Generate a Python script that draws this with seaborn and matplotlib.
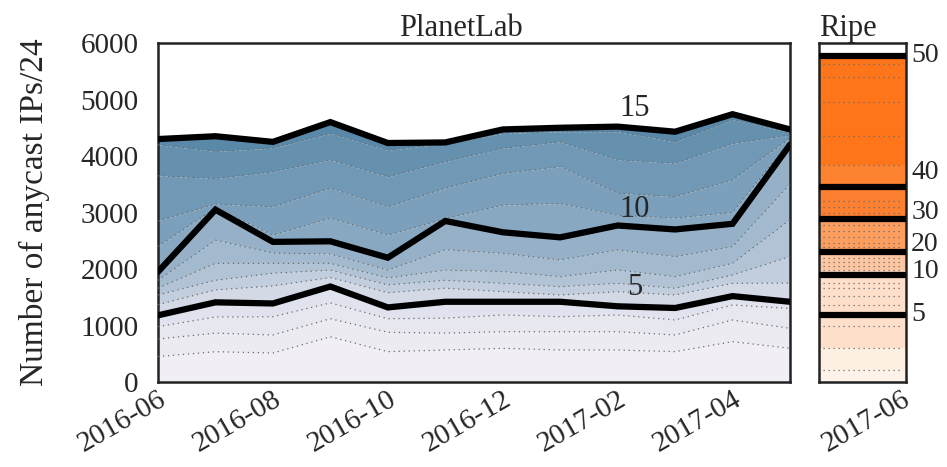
import numpy as np
import pandas as pd
import matplotlib
matplotlib.use("Agg")
import matplotlib.pyplot as plt
import seaborn as sns

# PlanetLab: cumulative count of anycast /24 per threshold level, monthly
months = ["2016-06", "2016-07", "2016-08", "2016-09", "2016-10", "2016-11",
          "2016-12", "2017-01", "2017-02", "2017-03", "2017-04", "2017-05"]
tick_months = ["2016-06", "2016-08", "2016-10", "2016-12", "2017-02", "2017-04"]

lvl_02 = [450, 536, 513, 800, 537, 566, 596, 566, 566, 537, 714, 596]
lvl_03 = [760, 865, 832, 1120, 880, 865, 890, 890, 890, 832, 1097, 950]
lvl_04 = [980, 1150, 1156, 1400, 1120, 1130, 1186, 1156, 1186, 1097, 1363, 1300]
lvl_05 = [1180, 1410, 1390, 1690, 1320, 1420, 1420, 1420, 1340, 1310, 1520, 1420]
lvl_06 = [1370, 1630, 1700, 1850, 1580, 1660, 1598, 1540, 1598, 1540, 1746, 1750]
lvl_07 = [1540, 1800, 1925, 1980, 1717, 1800, 1745, 1687, 1746, 1658, 1894, 2220]
lvl_08 = [1660, 2100, 2100, 2100, 1840, 1980, 1953, 1864, 1982, 1864, 2100, 2870]
lvl_09 = [1800, 2510, 2280, 2265, 1980, 2340, 2277, 2160, 2336, 2218, 2395, 3500]
lvl_10 = [1950, 3050, 2480, 2490, 2200, 2850, 2650, 2560, 2770, 2700, 2800, 4200]
lvl_11 = [2400, 3080, 2600, 2900, 2600, 2890, 3130, 3160, 2950, 2900, 3000, 4260]
lvl_12 = [2850, 3150, 3100, 3430, 3100, 3430, 3690, 3810, 3340, 3280, 3575, 4320]
lvl_13 = [3650, 3600, 3720, 3930, 3630, 3900, 4135, 4250, 3930, 3870, 4220, 4370]
lvl_14 = [4200, 4080, 4140, 4400, 4100, 4220, 4400, 4430, 4430, 4250, 4640, 4420]
lvl_15 = [4300, 4350, 4250, 4600, 4230, 4240, 4470, 4500, 4520, 4430, 4740, 4470]

level_names = [2, 3, 4, 5, 6, 7, 8, 9, 10, 11, 12, 13, 14, 15]
major_levels = [5, 10, 15]

# Ripe: one snapshot (2017-06), boundaries between levels
ripe_month = "2017-06"
ripe_bounds = [212, 596, 991, 1180, 1363, 1522, 1658, 1758, 1888, 1982, 2053,
               2130, 2189, 2295, 2395, 2455, 2572, 2678, 2779, 2879, 2997, 3091,
               3209, 3445, 3841, 4354, 4961, 5404, 5628, 5775]
ripe_major_labels = ["5", "10", "20", "30", "40", "50"]
ripe_major_vals = [1180, 1888, 2295, 2879, 3445, 5775]

levels = [lvl_02, lvl_03, lvl_04, lvl_05, lvl_06, lvl_07, lvl_08, lvl_09,
          lvl_10, lvl_11, lvl_12, lvl_13, lvl_14, lvl_15]
df = pd.DataFrame({"month": np.tile(np.arange(len(months)), len(levels)),
                   "level": np.repeat(level_names, len(months)),
                   "count": np.concatenate(levels)})

sns.set_theme(style="white")
plt.rcParams["font.family"] = ["Liberation Serif", "DejaVu Serif"]
plt.rcParams["axes.linewidth"] = 1.8
plt.rcParams["axes.edgecolor"] = "#222222"

FS = 21

fig = plt.figure(figsize=(9.47, 4.67), dpi=100)
ax = fig.add_axes([158 / 947, 85 / 467, 632 / 947, 339 / 467])
ax2 = fig.add_axes([819 / 947, 85 / 467, 87 / 947, 339 / 467])

blues = sns.blend_palette(["#f1eff5", "#dfe2ec", "#a9bdd0", "#7fa2bd", "#5a88a8"],
                          len(level_names))
x = np.arange(len(months))
prev = np.zeros(len(months))
for i, lv in enumerate(level_names):
    cur = df.loc[df["level"] == lv, "count"].to_numpy()
    ax.fill_between(x, prev, cur, color=blues[i], lw=0)
    prev = cur

for lv in level_names:
    sub = df[df["level"] == lv]
    if lv in major_levels:
        sns.lineplot(data=sub, x="month", y="count", ax=ax, color="black",
                     lw=4.5, zorder=5, solid_joinstyle="miter")
    else:
        sns.lineplot(data=sub, x="month", y="count", ax=ax, color="#6b6b6b",
                     lw=0.9, ls=(0, (1, 3)), zorder=4)

label_pos = {5: (8.3, 1680), 10: (8.3, 3060), 15: (8.3, 4840)}
for lv in major_levels:
    ax.text(*label_pos[lv], str(lv), fontsize=FS + 1, ha="center", va="center")

ax.set_xlim(0, len(months) - 1)
ax.set_ylim(0, 6000)
ax.set_yticks(range(0, 6001, 1000))
ax.set_xticks([months.index(m) for m in tick_months])
ax.set_xticklabels(tick_months, rotation=30, ha="right", rotation_mode="anchor")
ax.tick_params(axis="both", length=0, labelsize=FS)
ax.tick_params(axis="y", pad=14)
ax.tick_params(axis="x", pad=3)
ax.set_xlabel("")
ax.set_ylabel("Number of anycast IPs/24", fontsize=24, labelpad=22)
ax.set_title("PlanetLab", fontsize=FS + 1, pad=5, x=0.48)

# Ripe column
band_cols = []
for b in ripe_bounds:
    if b <= 212:
        band_cols.append("#fef3ea")
    elif b <= 596:
        band_cols.append("#feefe3")
    elif b <= 1888:
        band_cols.append("#fddfca")
    elif b <= 1982:
        band_cols.append("#fdd3b6")
    elif b <= 2295:
        band_cols.append("#fdc6a2")
    elif b <= 2879:
        band_cols.append("#fd9d5e")
    elif b <= 3445:
        band_cols.append("#fd8030")
    elif b <= 3841:
        band_cols.append("#fe8331")
    else:
        band_cols.append("#ff761a")

bottom = 0
for b, c in zip(ripe_bounds, band_cols):
    ax2.bar(0, b - bottom, bottom=bottom, width=1, color=c, lw=0)
    bottom = b
for b in ripe_bounds:
    if b in ripe_major_vals:
        ax2.axhline(b, color="black", lw=4.5, zorder=5)
    else:
        ax2.axhline(b, xmin=0.05, xmax=0.95, color="#6b6b6b", lw=0.9,
                    ls=(0, (1, 3)), zorder=4)

ripe_label_y = [1190, 1960, 2440, 3000, 3700, 5780]
for lab, yy in zip(ripe_major_labels, ripe_label_y):
    ax2.text(0.56, yy, lab, fontsize=20, ha="left", va="center")

ax2.set_xlim(-0.5, 0.5)
ax2.set_ylim(0, 6000)
ax2.set_yticks([])
ax2.set_xticks([0.45])
ax2.set_xticklabels([ripe_month], rotation=30, ha="right", rotation_mode="anchor")
ax2.tick_params(axis="x", length=0, labelsize=FS, pad=3)
ax2.set_title("Ripe", fontsize=FS + 1, pad=5, loc="left")

fig.savefig("out.png", dpi=100)
